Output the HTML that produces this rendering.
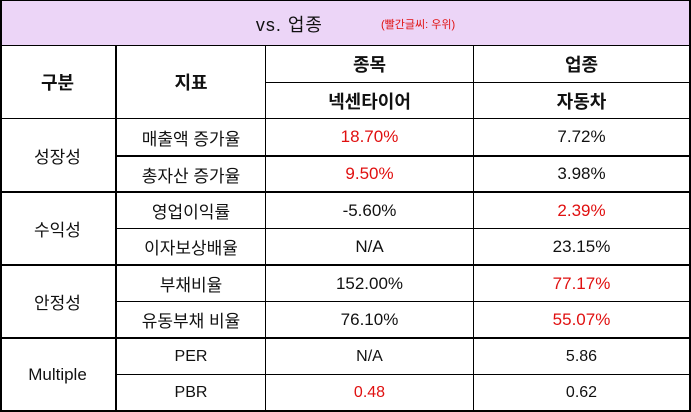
<!DOCTYPE html><html><head><meta charset="utf-8"><style>
body{margin:0;width:691px;height:412px;background:#fff;position:relative;overflow:hidden;font-family:"Liberation Sans","Noto Sans CJK KR",sans-serif;}
.h,.v{position:absolute;background:#000}
.t{position:absolute;display:flex;align-items:center;justify-content:center;font-size:17px;color:#111}
.r{color:#e01010}.b{font-weight:bold;font-size:18px}
</style></head><body>
<div style="position:absolute;left:1px;top:1px;width:688px;height:45px;background:#ecd5f7"></div>
<div class="t" style="left:0;top:1px;width:691px;height:45px"><span style="font-size:18px;letter-spacing:1px;margin-left:20px">vs. 업종</span><span style="color:#e01010;font-size:11px;margin-left:58px">(빨간글씨: 우위)</span></div>
<div class="h" style="left:0;top:0;width:691px;height:1px"></div>
<div class="h" style="left:0;top:410px;width:691px;height:2px"></div>
<div class="v" style="left:0;top:0;width:2px;height:412px"></div>
<div class="v" style="left:689px;top:0;width:2px;height:412px"></div>
<div class="h" style="left:0;top:45px;width:691px;height:1px"></div>
<div class="h" style="left:265px;top:82px;width:426px;height:1px"></div>
<div class="h" style="left:0;top:118px;width:691px;height:1px"></div>
<div class="h" style="left:115px;top:155px;width:576px;height:2px"></div>
<div class="h" style="left:0;top:191px;width:691px;height:2px"></div>
<div class="h" style="left:115px;top:228px;width:576px;height:1px"></div>
<div class="h" style="left:0;top:264px;width:691px;height:2px"></div>
<div class="h" style="left:115px;top:301px;width:576px;height:1px"></div>
<div class="h" style="left:0;top:337px;width:691px;height:2px"></div>
<div class="h" style="left:115px;top:374px;width:576px;height:1px"></div>
<div class="v" style="left:115px;top:46px;width:2px;height:366px"></div>
<div class="v" style="left:265px;top:46px;width:1px;height:366px"></div>
<div class="v" style="left:473px;top:46px;width:1px;height:366px"></div>
<div class="t b" style="left:0;top:46px;width:115px;height:72px">구분</div>
<div class="t b" style="left:117px;top:46px;width:148px;height:72px">지표</div>
<div class="t b" style="left:266px;top:46px;width:207px;height:36px">종목</div>
<div class="t b" style="left:474px;top:46px;width:215px;height:36px">업종</div>
<div class="t b" style="left:266px;top:83px;width:207px;height:35px">넥센타이어</div>
<div class="t b" style="left:474px;top:83px;width:215px;height:35px">자동차</div>
<div class="t" style="left:0;top:119px;width:115px;height:72px">성장성</div>
<div class="t" style="left:0;top:193px;width:115px;height:71px">수익성</div>
<div class="t" style="left:0;top:266px;width:115px;height:71px">안정성</div>
<div class="t" style="left:0;top:339px;width:115px;height:71px">Multiple</div>
<div class="t" style="left:117px;top:119px;width:148px;height:36px">매출액 증가율</div>
<div class="t r" style="left:266px;top:119px;width:207px;height:36px">18.70%</div>
<div class="t" style="left:474px;top:119px;width:215px;height:36px">7.72%</div>
<div class="t" style="left:117px;top:157px;width:148px;height:34px">총자산 증가율</div>
<div class="t r" style="left:266px;top:157px;width:207px;height:34px">9.50%</div>
<div class="t" style="left:474px;top:157px;width:215px;height:34px">3.98%</div>
<div class="t" style="left:117px;top:193px;width:148px;height:35px">영업이익률</div>
<div class="t" style="left:266px;top:193px;width:207px;height:35px">-5.60%</div>
<div class="t r" style="left:474px;top:193px;width:215px;height:35px">2.39%</div>
<div class="t" style="left:117px;top:229px;width:148px;height:35px">이자보상배율</div>
<div class="t" style="left:266px;top:229px;width:207px;height:35px">N/A</div>
<div class="t" style="left:474px;top:229px;width:215px;height:35px">23.15%</div>
<div class="t" style="left:117px;top:266px;width:148px;height:35px">부채비율</div>
<div class="t" style="left:266px;top:266px;width:207px;height:35px">152.00%</div>
<div class="t r" style="left:474px;top:266px;width:215px;height:35px">77.17%</div>
<div class="t" style="left:117px;top:302px;width:148px;height:35px">유동부채 비율</div>
<div class="t" style="left:266px;top:302px;width:207px;height:35px">76.10%</div>
<div class="t r" style="left:474px;top:302px;width:215px;height:35px">55.07%</div>
<div class="t" style="left:117px;top:339px;width:148px;height:35px;font-size:16px">PER</div>
<div class="t" style="left:266px;top:339px;width:207px;height:35px;font-size:16px">N/A</div>
<div class="t" style="left:474px;top:339px;width:215px;height:35px;font-size:16px">5.86</div>
<div class="t" style="left:117px;top:375px;width:148px;height:35px;font-size:16px">PBR</div>
<div class="t r" style="left:266px;top:375px;width:207px;height:35px;font-size:16px">0.48</div>
<div class="t" style="left:474px;top:375px;width:215px;height:35px;font-size:16px">0.62</div>
</body></html>
